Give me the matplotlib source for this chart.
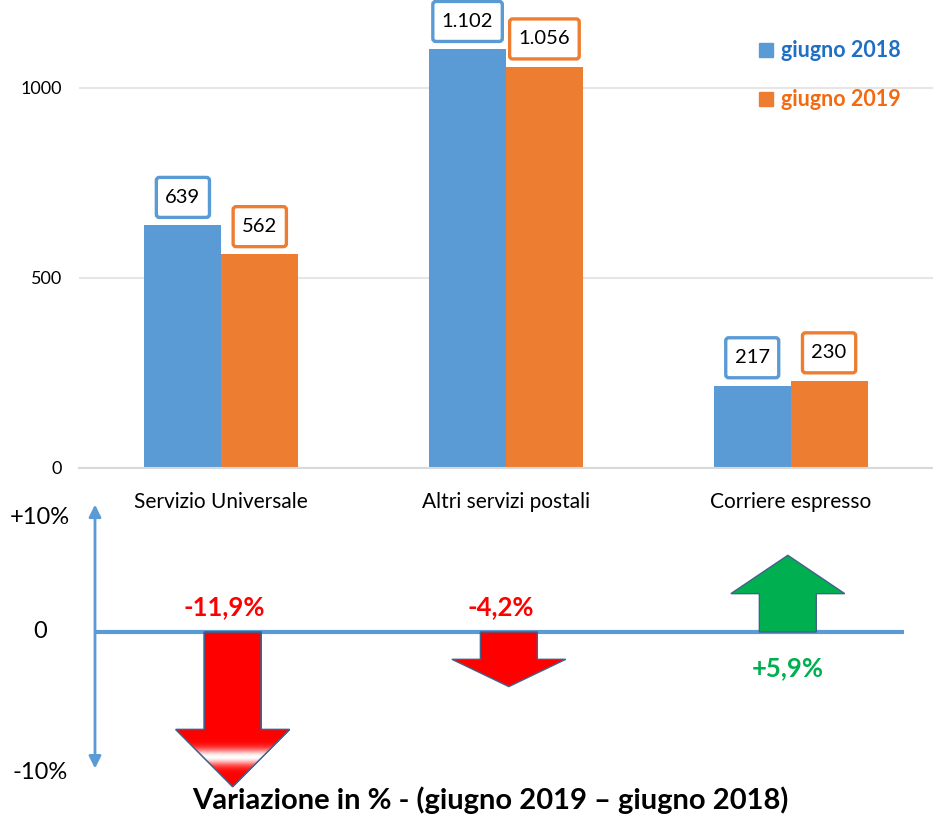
import matplotlib
matplotlib.use("Agg")
import matplotlib.pyplot as plt
import matplotlib.transforms as mtransforms
import numpy as np
from matplotlib.patches import Polygon, FancyBboxPatch
from matplotlib.lines import Line2D

# Dati: traffico (milioni di invii) per segmento
categorie = ["Servizio Universale", "Altri servizi postali", "Corriere espresso"]
giugno_2018 = [639, 1102, 217]
giugno_2019 = [562, 1056, 230]
etichette_2018 = ["639", "1.102", "217"]
etichette_2019 = ["562", "1.056", "230"]
serie = ["giugno 2018", "giugno 2019"]

# Variazione percentuale 2019 vs 2018
variazioni = [-11.9, -4.2, 5.9]
etichette_var = ["-11,9%", "-4,2%", "+5,9%"]
tick_var = [10, 0, -10]
tick_var_lab = ["+10%", "0", "-10%"]

BLU = "#5B9BD5"
ARANCIO = "#ED7D31"
BLU_TESTO = "#1F6FC4"
ARANCIO_TESTO = "#F36A10"
ROSSO = "#FF0000"
VERDE = "#00B050"
BORDO_FRECCIA = "#41618C"

plt.rcParams["font.family"] = ["Lato", "DejaVu Sans"]

W, H = 933, 814
fig = plt.figure(figsize=(W / 100, H / 100), dpi=100)

# ---- grafico a barre in alto ----
x0, x1 = 79 / W, 1.0
ax = fig.add_axes([x0, 1 - 468 / H, x1 - x0, (468 - 12) / H])
x = np.arange(len(categorie))
larg = 0.27
b1 = ax.bar(x - larg / 2, giugno_2018, larg, color=BLU, zorder=2)
b2 = ax.bar(x + larg / 2, giugno_2019, larg, color=ARANCIO, zorder=2)
ax.set_xlim(-0.5, 2.5)
ax.set_ylim(0, 1200)
ax.set_yticks([0, 500, 1000])
ax.set_yticklabels(["0", "500", "1000"], fontsize=13)
ax.set_xticks(x)
ax.set_xticklabels(categorie, fontsize=15)
ax.tick_params(length=0, pad=12)
ax.tick_params(axis="x", pad=17)
for s in ["top", "right", "left"]:
    ax.spines[s].set_visible(False)
ax.spines["bottom"].set_color("#D9D9D9")
ax.spines["bottom"].set_linewidth(1.5)
ax.yaxis.grid(True, color="#E6E6E6", linewidth=1.5, zorder=0)
ax.set_axisbelow(True)

# etichette dei valori con riquadro colorato
renderer = fig.canvas.get_renderer()
for barre, etich, col in [(b1, etichette_2018, BLU), (b2, etichette_2019, ARANCIO)]:
    for r, t in zip(barre, etich):
        txt = ax.annotate(t, (r.get_x() + r.get_width() / 2, r.get_height()),
                          xytext=(0, 20), textcoords="offset points",
                          ha="center", va="center", fontsize=14.5, color="black",
                          annotation_clip=False, zorder=6)
        bb = txt.get_window_extent(renderer)
        cxp, cyp = (bb.x0 + bb.x1) / 2, (bb.y0 + bb.y1) / 2
        bw, bh = bb.width + 18, 40
        riquadro = FancyBboxPatch(
            (cxp - bw / 2, cyp - bh / 2), bw, bh,
            boxstyle="round,pad=0,rounding_size=3", fc="white", ec=col, lw=2.4,
            transform=mtransforms.IdentityTransform(), zorder=5, clip_on=False)
        ax.add_artist(riquadro)

maniglie = [Line2D([], [], marker="s", ls="none", color=BLU, markersize=10),
            Line2D([], [], marker="s", ls="none", color=ARANCIO, markersize=10)]
leg = fig.legend(maniglie, serie, loc="upper right",
                 bbox_to_anchor=(920 / W, 1 - 21 / H), frameon=False,
                 handletextpad=0.2, labelspacing=1.3, handlelength=1.0,
                 prop=dict(weight="bold", size=15.5),
                 labelcolor=[BLU_TESTO, ARANCIO_TESTO])

# ---- pannello delle variazioni in basso ----
ax2 = fig.add_axes([x0, 0, x1 - x0, 314 / H])
scala = 13.0  # px per punto percentuale
ax2.set_xlim(-0.5, 2.5)
ax2.set_ylim(-(814 - 632) / scala, (632 - 500) / scala)
ax2.axis("off")

ax_x = (95 / W - x0) / (x1 - x0)
ax2.annotate("", xy=(ax_x, 9.8), xytext=(ax_x, -10.5),
             xycoords=("axes fraction", "data"),
             arrowprops=dict(arrowstyle="<|-|>", color=BLU, lw=2,
                             mutation_scale=18, shrinkA=0, shrinkB=0))
ax2.plot([ax_x, 0.966], [0, 0], color=BLU, lw=3,
         transform=ax2.get_yaxis_transform(), zorder=1, solid_capstyle="butt")

trans_lab = mtransforms.blended_transform_factory(fig.transFigure, ax2.transData)
for yv, lab in zip(tick_var, tick_var_lab):
    if yv == 0:
        tr, va = trans_lab, "center"
    elif yv > 0:
        tr = trans_lab + mtransforms.ScaledTranslation(0, -0.05, fig.dpi_scale_trans)
        va = "top"
    else:
        tr, va = trans_lab, "top"
    ax2.text(40 / W, yv, lab, fontsize=17, ha="center", va=va, transform=tr)

off = [0.04, 0.01, -0.01]
for i, (v, lab) in enumerate(zip(variazioni, etichette_var)):
    cx = x[i] + off[i]
    col = VERDE if v > 0 else ROSSO
    sgn = np.sign(v)
    testa = min(0.5 * abs(v), 4.4) * sgn
    mezza_asta, mezza_testa = 0.1, 0.2
    verts = [(cx - mezza_asta, 0), (cx + mezza_asta, 0),
             (cx + mezza_asta, v - testa), (cx + mezza_testa, v - testa),
             (cx, v), (cx - mezza_testa, v - testa),
             (cx - mezza_asta, v - testa)]
    poly = Polygon(verts, closed=True, fc=col, ec=BORDO_FRECCIA, lw=1, zorder=3)
    ax2.add_patch(poly)
    if v < -10:
        # sfumatura bianca nella punta della freccia piu lunga
        t = np.linspace(0, 1, 200)
        bianco = np.exp(-((t - 0.52) / 0.14) ** 2)
        img = np.ones((200, 1, 3))
        img[:, 0, 1] = bianco
        img[:, 0, 2] = bianco
        im = ax2.imshow(img, extent=[cx - mezza_testa, cx + mezza_testa, v - testa, v],
                        origin="upper", aspect="auto", zorder=3.5)
        im.set_clip_path(Polygon(verts, closed=True, transform=ax2.transData))
        ax2.add_patch(Polygon(verts, closed=True, fc="none", ec=BORDO_FRECCIA, lw=1, zorder=4))
    ty = 1.95 if v < 0 else -2.75
    ax2.text(cx - (0.03 if v < 0 else 0), ty, lab, color=col, fontsize=18.5,
             fontweight="bold", ha="center", va="center", zorder=5)

fig.text(490 / W, 1 - 800 / H, "Variazione in % - (giugno 2019 \u2013 giugno 2018)",
         fontsize=21, fontweight="bold", ha="center", va="center")

fig.savefig("out.png", dpi=100)
